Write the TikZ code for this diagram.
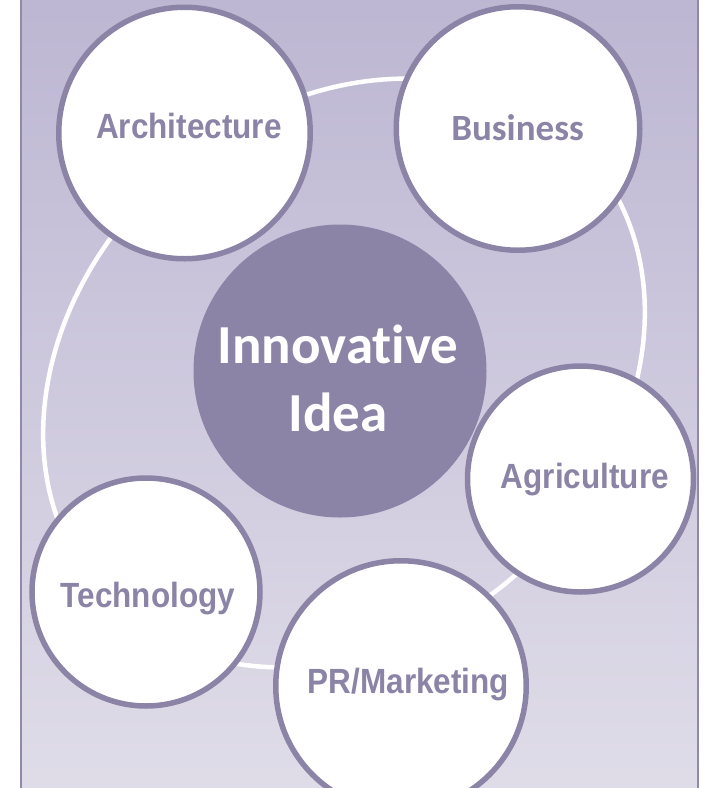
\documentclass[tikz,border=0pt]{standalone}
\usepackage{fontspec}
\setmainfont{Carlito}[Ligatures=NoCommon]
\newfontfamily\narrowfont[FakeStretch=0.9]{Liberation Sans}
\usetikzlibrary{positioning}
\definecolor{ideapurple}{RGB}{139,132,166}
\definecolor{frameline}{RGB}{144,137,171}
\definecolor{bgtop}{RGB}{188,182,210}
\definecolor{bgbottom}{RGB}{224,221,233}
\tikzset{
  bubble/.style={circle, draw=ideapurple, line width=5.5pt, fill=white, inner sep=0pt},
  tag/.style={anchor=base, inner sep=0pt, text=ideapurple, font=\narrowfont\bfseries\fontsize{35}{40}\selectfont},
  hub/.style={circle, fill=ideapurple, inner sep=0pt, minimum size=293pt},
  hubtext/.style={anchor=base, inner sep=0pt, text=white, font=\bfseries\fontsize{55}{68}\selectfont}
}

\begin{document}
\begin{tikzpicture}[x=1pt, y=-1pt]
        \useasboundingbox (0,0) rectangle (704,788);
        \clip (0,0) rectangle (704,788);
        \shade[top color=bgtop, bottom color=bgbottom, draw=frameline, line width=2.5pt]
          (21,-10) rectangle (698,800); %panel
        \coordinate (ringc) at (344,373);
        \draw[white, line width=4.5pt, rotate around={42:(ringc)}]
          (ringc) ellipse [x radius=327, y radius=265]; %ring behind the bubbles
        \node[hub] (idea) at (340,371) {};
        \node[hubtext] (ideatop) at (338,363) {Innovative};
        \node[hubtext] (ideabottom) at (338,431) {Idea};
        \node[bubble, minimum size=251.5pt] (arch) at (184.5,133) {};
        \node[bubble, minimum size=243.5pt] (biz) at (518,128.5) {};
        \node[bubble, minimum size=226pt] (agri) at (580.5,479) {};
        \node[bubble, minimum size=228pt] (tech) at (146,592) {};
        \node[bubble, minimum size=250.5pt] (prm) at (401,686) {};
        \node[tag] (archtag) at (189,138) {Architecture};
        \node[tag, font=\bfseries\fontsize{37}{40}\selectfont] (biztag) at (517.5,140) {Business};
        \node[tag] (agritag) at (585,488) {Agriculture};
        \node[tag] (techtag) at (148,607) {Technology};
        \node[tag] (prmtag) at (408.5,693) {PR/Marketing};
\end{tikzpicture}
\end{document}
